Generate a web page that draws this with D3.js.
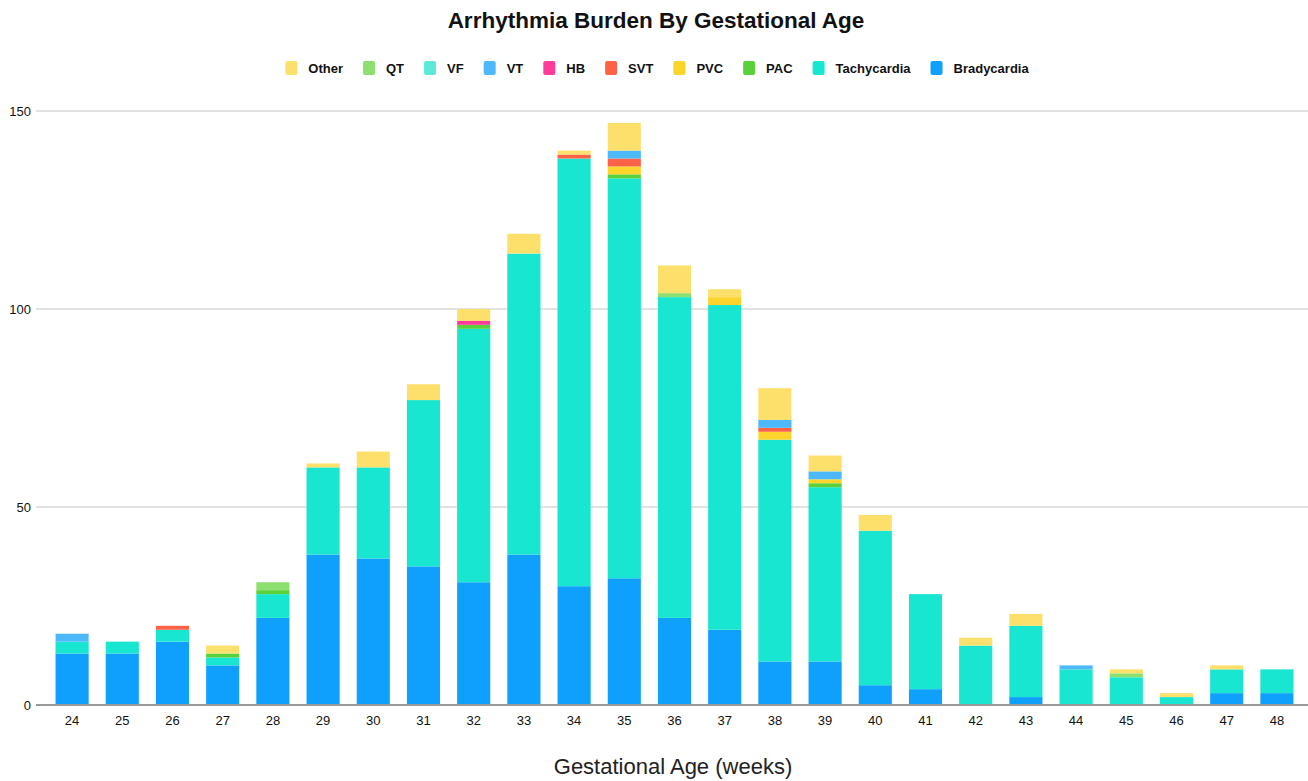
<!DOCTYPE html>
<html>
<head>
<meta charset="utf-8">
<script src="https://cdn.jsdelivr.net/npm/d3@7"></script>
<style>
  html, body { margin: 0; padding: 0; background: #fff; }
  svg { display: block; font-family: "Liberation Sans", Arial, Helvetica, sans-serif; }
</style>
</head>
<body>
<svg id="chart" width="1308" height="781"></svg>
<script>
// ---- Data ----
const ages = ["24","25","26","27","28","29","30","31","32","33","34","35","36","37","38","39","40","41","42","43","44","45","46","47","48"];
const seriesNames = ["Bradycardia","Tachycardia","PAC","PVC","SVT","HB","VT","VF","QT","Other"];
const bradycardia = [13,13,16,10,22,38,37,35,31,38,30,32,22,19,11,11,5,4,0,2,0,0,0,3,3];
const tachycardia = [3,3,3,2,6,22,23,42,64,76,108,101,81,82,56,44,39,24,15,18,9,7,2,6,6];
const pac         = [0,0,0,1,1,0,0,0,1,0,0,1,0,0,0,1,0,0,0,0,0,0,0,0,0];
const pvc         = [0,0,0,0,0,0,0,0,0,0,0,2,0,2,2,1,0,0,0,0,0,0,0,0,0];
const svt         = [0,0,1,0,0,0,0,0,0,0,1,2,0,0,1,0,0,0,0,0,0,0,0,0,0];
const hb          = [0,0,0,0,0,0,0,0,1,0,0,0,0,0,0,0,0,0,0,0,0,0,0,0,0];
const vt          = [2,0,0,0,0,0,0,0,0,0,0,2,0,0,2,2,0,0,0,0,1,0,0,0,0];
const vf          = [0,0,0,0,0,0,0,0,0,0,0,0,0,0,0,0,0,0,0,0,0,0,0,0,0];
const qt          = [0,0,0,0,2,0,0,0,0,0,0,0,1,0,0,0,0,0,0,0,0,1,0,0,0];
const other       = [0,0,0,2,0,1,4,4,3,5,1,7,7,2,8,4,4,0,2,3,0,1,1,1,0];
const yTicks = [0,50,100,150];

const seriesValues = [bradycardia,tachycardia,pac,pvc,svt,hb,vt,vf,qt,other];
const colors = ["#0fa0fd","#19e6d0","#5ad13b","#fdd42c","#fd6247","#fc3b9b","#4db8fa","#5de9d9","#8ddf70","#fde06c"];

const rows = ages.map((a,i) => {
  const r = {age:a};
  seriesNames.forEach((s,j) => r[s] = seriesValues[j][i]);
  return r;
});

const svg = d3.select("#chart");
const W = 1308, H = 781;
const margin = {left:47, right:6, top:111, bottom:76};

const x = d3.scaleBand().domain(ages).range([margin.left, W - margin.right]).paddingInner(0.34).paddingOuter(0.17);
const y = d3.scaleLinear().domain([0,150]).range([H - margin.bottom, margin.top]);

// gridlines
svg.append("g").selectAll("line").data(yTicks.filter(d => d !== 0)).join("line")
  .attr("x1", 36).attr("x2", W).attr("y1", d => y(d)).attr("y2", d => y(d))
  .attr("stroke", "#e2e2e2").attr("stroke-width", 2);

// y tick labels
svg.append("g").selectAll("text").data(yTicks).join("text")
  .attr("x", 31).attr("y", d => y(d)).attr("dy", "0.35em")
  .attr("text-anchor", "end").attr("font-size", 13).attr("fill", "#111")
  .text(d => d);

// stacked bars
const stack = d3.stack().keys(seriesNames);
const stacked = stack(rows);
const color = d3.scaleOrdinal().domain(seriesNames).range(colors);

svg.append("g").selectAll("g").data(stacked).join("g")
  .attr("fill", d => color(d.key))
  .selectAll("rect").data(d => d.filter(s => s[1] - s[0] > 0)).join("rect")
  .attr("x", d => x(d.data.age))
  .attr("width", x.bandwidth())
  .attr("y", d => y(d[1]))
  .attr("height", d => y(d[0]) - y(d[1]));

// baseline
svg.append("line").attr("x1", 36).attr("x2", W).attr("y1", y(0)).attr("y2", y(0))
  .attr("stroke", "#9a9a9a").attr("stroke-width", 2);

// x axis labels
svg.append("g").selectAll("text").data(ages).join("text")
  .attr("x", d => x(d) + x.bandwidth()/2).attr("y", 720).attr("dy", "0.35em")
  .attr("text-anchor", "middle").attr("font-size", 13).attr("fill", "#111")
  .text(d => d);

// x axis title
svg.append("text").attr("x", 673).attr("y", 774)
  .attr("text-anchor", "middle").attr("font-size", 22).attr("fill", "#222")
  .text("Gestational Age (weeks)");

// title
svg.append("text").attr("x", 656).attr("y", 28)
  .attr("text-anchor", "middle").attr("font-size", 22.5).attr("font-weight", "bold").attr("fill", "#111")
  .text("Arrhythmia Burden By Gestational Age");

// legend
const legendOrder = seriesNames.slice().reverse();
const lg = svg.append("g");
let cx = 0;
legendOrder.forEach(name => {
  const g = lg.append("g").attr("transform", `translate(${cx},0)`);
  g.append("rect").attr("x", 0).attr("y", -7).attr("width", 12).attr("height", 14).attr("rx", 2)
    .attr("fill", color(name));
  const t = g.append("text").attr("x", 23).attr("y", 0).attr("dy", "0.35em")
    .attr("font-size", 13).attr("font-weight", "bold").attr("fill", "#111").text(name);
  const w = t.node().getComputedTextLength();
  cx += 23 + w + 20;
});
const totalW = cx - 20;
lg.attr("transform", `translate(${657 - totalW/2},68)`);
</script>
</body>
</html>
